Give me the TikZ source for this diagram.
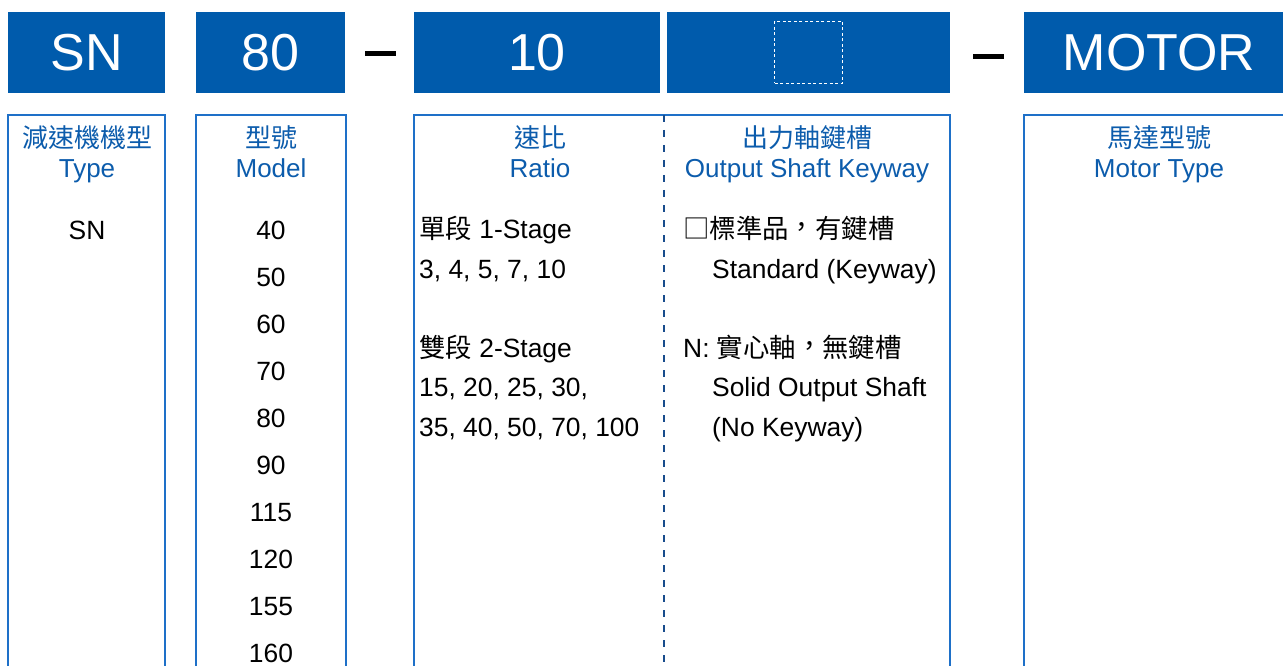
\documentclass[tikz,border=0pt]{standalone}
\usepackage{fontspec}
\setmainfont{Liberation Sans}
\newfontfamily\cjk[Script=CJK, Language=Chinese Traditional]{Noto Sans CJK TC}
\usetikzlibrary{positioning}
\definecolor{codeblue}{RGB}{0,91,172}
\definecolor{frameblue}{RGB}{30,112,200}
\definecolor{titleblue}{RGB}{12,92,172}
\definecolor{divblue}{RGB}{24,76,140}
% full-width comma, set a little higher as in the reference
\newcommand{\cjkcomma}{\raisebox{0.06em}{，}}
\tikzset{
  codebox/.style={rectangle, fill=codeblue, text=white, inner sep=0pt, outer sep=0pt, minimum height=81pt, font=\fontsize{52}{52}\selectfont},
  colbox/.style={rectangle, draw=frameblue, line width=1.8pt, inner sep=0pt, outer sep=0pt, minimum height=600pt, anchor=north west},
  coltitle/.style={text=titleblue, inner sep=0pt, anchor=base, font=\fontsize{26}{31}\selectfont},
  entry/.style={inner sep=0pt, font=\fontsize{26.4}{31}\selectfont},
  dashmark/.style={fill=black, minimum width=31pt, minimum height=5pt, inner sep=0pt},
  divider/.style={divblue, line width=2pt, dash pattern=on 7pt off 8pt},
}

\begin{document}
\begin{tikzpicture}[x=1pt, y=-1pt]
  \useasboundingbox (0,0) rectangle (1283,666);
  \clip (0,0) rectangle (1283,666);

  % code boxes
  \node[codebox, minimum width=157pt, anchor=north west] (sncode) at (8,12) {SN};
  \node[codebox, minimum width=149pt, right=31pt of sncode] (modelcode) {80};
  \node[codebox, minimum width=246pt, right=69pt of modelcode] (ratiocode) {10};
  \node[codebox, minimum width=283pt, right=7pt of ratiocode] (shaftcode) {};
  \node[codebox, minimum width=270pt, right=74pt of shaftcode] (motorcode) {MOTOR};
  \node[draw=white, line width=1.4pt, dash pattern=on 3pt off 2.5pt, minimum width=68pt, minimum height=62pt, inner sep=0pt] (keyslot) at (shaftcode.center) {};
  \node[dashmark] (dashA) at (380,54) {};
  \node[dashmark] (dashB) at (988,57) {};

  % columns
  \node[colbox, minimum width=157pt] (typecol) at (8,115) {};
  \node[colbox, minimum width=150pt] (modelcol) at (196,115) {};
  \node[colbox, minimum width=536pt] (ratiocol) at (414,115) {};
  \node[colbox, minimum width=290pt] (motorcol) at (1024,115) {};
  \coordinate (divtop) at (664,115);
  \coordinate (divbot) at (664,680);
  \draw[divider] (divtop) -- (divbot);

  % column titles
  \node[coltitle] (typezh) at (87,147.5) {\cjk 減速機機型};
  \node[coltitle] (typeen) at (87,178) {Type};
  \node[coltitle] (modelzh) at (271,147.5) {\cjk 型號};
  \node[coltitle] (modelen) at (271,178) {Model};
  \node[coltitle] (ratiozh) at (540,147.5) {\cjk 速比};
  \node[coltitle] (ratioen) at (540,178) {Ratio};
  \node[coltitle] (shaftzh) at (807,147.5) {\cjk 出力軸鍵槽};
  \node[coltitle] (shaften) at (807,178) {Output Shaft Keyway};
  \node[coltitle] (motorzh) at (1159,147.5) {\cjk 馬達型號};
  \node[coltitle] (motoren) at (1159,178) {Motor Type};

  % entries
  \node[entry, anchor=base] (typesn) at (87,239) {SN};
  \foreach \m [count=\i from 0] in {40,50,60,70,80,90,115,120,155,160}
    \node[entry, anchor=base] (model\i) at (271,239+47*\i) {\m};

  \node[entry, anchor=base west] (stageA) at (419,238) {{\cjk 單段} 1-Stage};
  \node[entry, anchor=base west] (ratioA) at (419,278) {3, 4, 5, 7, 10};
  \node[entry, anchor=base west] (stageB) at (419,357) {{\cjk 雙段} 2-Stage};
  \node[entry, anchor=base west] (ratioB) at (419,396) {15, 20, 25, 30,};
  \node[entry, anchor=base west] (ratioC) at (419,436) {35, 40, 50, 70, 100};

  \node[entry, anchor=base west] (keyzh) at (683,238) {\cjk □標準品\cjkcomma 有鍵槽};
  \node[entry, anchor=base west] (keyen) at (712,278) {Standard (Keyway)};
  \node[entry, anchor=base west] (solidzh) at (683,357) {N: {\cjk 實心軸\cjkcomma 無鍵槽}};
  \node[entry, anchor=base west] (soliden) at (712,396) {Solid Output Shaft};
  \node[entry, anchor=base west] (solidnote) at (712,436) {(No Keyway)};
\end{tikzpicture}
\end{document}
